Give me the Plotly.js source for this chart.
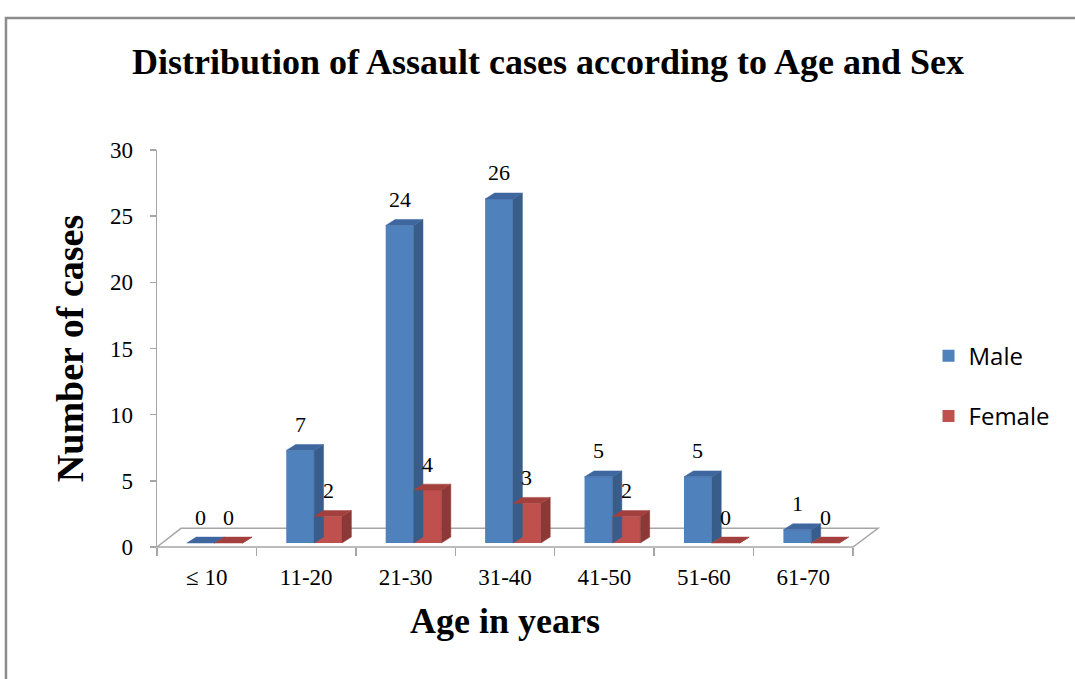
<!DOCTYPE html>
<html>
<head>
<meta charset="utf-8">
<script src="https://cdn.plot.ly/plotly-3.0.1.min.js"></script>
<style>html,body{margin:0;padding:0;background:#fff;}#chart{width:1075px;height:679px;}</style>
</head>
<body>
<div id="chart"></div>
<script>
// ---- data ----
const categories = ['≤ 10', '11-20', '21-30', '31-40', '41-50', '51-60', '61-70'];
const male = [0, 7, 24, 26, 5, 5, 1];
const female = [0, 2, 4, 3, 2, 0, 0];
const yTicks = [0, 5, 10, 15, 20, 25, 30];
const seriesNames = ['Male', 'Female'];

// ---- style / 3D geometry ----
const BASE = 0.3, W = 0.28, DX = 0.095, DY = 0.45;
const styles = [
  {off: -0.2, front: '#4F81BD', side: '#385D8A', top: '#3E67A0'},
  {off: 0.08, front: '#C0504D', side: '#8C3836', top: '#A3403D'}
];
const serif = 'Liberation Serif, Times New Roman, serif';
const idx = categories.map((c, i) => i);

const traces = [];
const annotations = [];
[male, female].forEach((vals, s) => {
  const st = styles[s];
  traces.push({
    type: 'bar', name: seriesNames[s], x: idx, y: vals, base: BASE,
    offset: st.off, width: W, legendgroup: 'g' + s,
    marker: {color: st.front, line: {width: 0}}, hoverinfo: 'y'
  });
  const sx = [], sy = [], tx = [], ty = [];
  vals.forEach((v, i) => {
    const x0 = i + st.off, x1 = x0 + W, top = BASE + v;
    sx.push(x1, x1 + DX, x1 + DX, x1, x1, null);
    sy.push(BASE, BASE + DY, top + DY, top, BASE, null);
    tx.push(x0, x0 + DX, x1 + DX, x1, x0, null);
    ty.push(top, top + DY, top + DY, top, top, null);
    annotations.push({
      x: x0 + W / 2, y: top, xref: 'x', yref: 'y', text: String(v),
      showarrow: false, yshift: 26, yanchor: 'middle',
      font: {family: serif, size: 22, color: '#000'}
    });
  });
  traces.push({type: 'scatter', mode: 'lines', x: sx, y: sy, fill: 'toself',
    fillcolor: st.side, line: {width: 0.5, color: st.side}, showlegend: false, hoverinfo: 'skip'});
  traces.push({type: 'scatter', mode: 'lines', x: tx, y: ty, fill: 'toself',
    fillcolor: st.top, line: {width: 0.5, color: st.top}, showlegend: false, hoverinfo: 'skip'});
});

const gray = '#A6A6A6';
const layout = {
  width: 1075, height: 679,
  margin: {l: 157, r: 222, t: 150, b: 132},
  paper_bgcolor: '#fff', plot_bgcolor: 'rgba(0,0,0,0)',
  showlegend: true,
  title: {
    text: 'Distribution of Assault cases according to Age and Sex',
    font: {family: serif, size: 36, color: '#000', weight: 'bold'},
    x: 0.5098, xref: 'container', xanchor: 'center',
    y: 1 - 61 / 679, yref: 'container', yanchor: 'middle'
  },
  xaxis: {
    range: [-0.5, 6.5], showgrid: false, zeroline: false, showline: false,
    tickmode: 'array', tickvals: idx, ticktext: categories, ticks: '',
    ticklabelstandoff: 14,
    tickfont: {family: serif, size: 23, color: '#000'},
    minor: {tickmode: 'linear', tick0: -0.5, dtick: 1, ticks: 'outside', ticklen: 8, tickwidth: 1.5, tickcolor: gray, showgrid: false},
    title: {text: 'Age in years', font: {family: serif, size: 36, color: '#000', weight: 'bold'}, standoff: 18},
    fixedrange: true
  },
  yaxis: {
    range: [0, 30], tickmode: 'array', tickvals: yTicks, showgrid: false, zeroline: false,
    showline: true, linecolor: gray, linewidth: 1.5,
    ticks: 'outside', ticklen: 6, tickwidth: 1.5, tickcolor: gray, ticklabelstandoff: 12,
    tickfont: {family: serif, size: 23, color: '#000'},
    title: {text: 'Number of cases', font: {family: serif, size: 38, color: '#000', weight: 'bold'}, standoff: 14},
    fixedrange: true
  },
  legend: {
    x: 1.1085, xanchor: 'left', y: 0.405, yanchor: 'middle',
    traceorder: 'grouped', tracegroupgap: 26,
    font: {family: 'Open Sans, Noto Sans, sans-serif', size: 24, color: '#000'},
    bgcolor: 'rgba(0,0,0,0)'
  },
  annotations: annotations,
  shapes: [
    // 3D floor (paper coordinates so the back edge is not clipped)
    {type: 'path', xref: 'paper', yref: 'paper', layer: 'below',
     path: 'M 0 0 L 0.0345 0.047 L 1.036 0.047 L 1 0 Z',
     line: {color: gray, width: 1.5}, fillcolor: '#fff'},
    // outer frame
    {type: 'rect', xref: 'paper', yref: 'paper', layer: 'below',
     x0: -0.217, x1: 1.34, y0: -0.40, y1: 1.3325,
     line: {color: '#8C8C8C', width: 2.5}, fillcolor: 'rgba(0,0,0,0)'}
  ]
};

Plotly.newPlot('chart', traces, layout, {displayModeBar: false, staticPlot: true});
</script>
</body>
</html>
